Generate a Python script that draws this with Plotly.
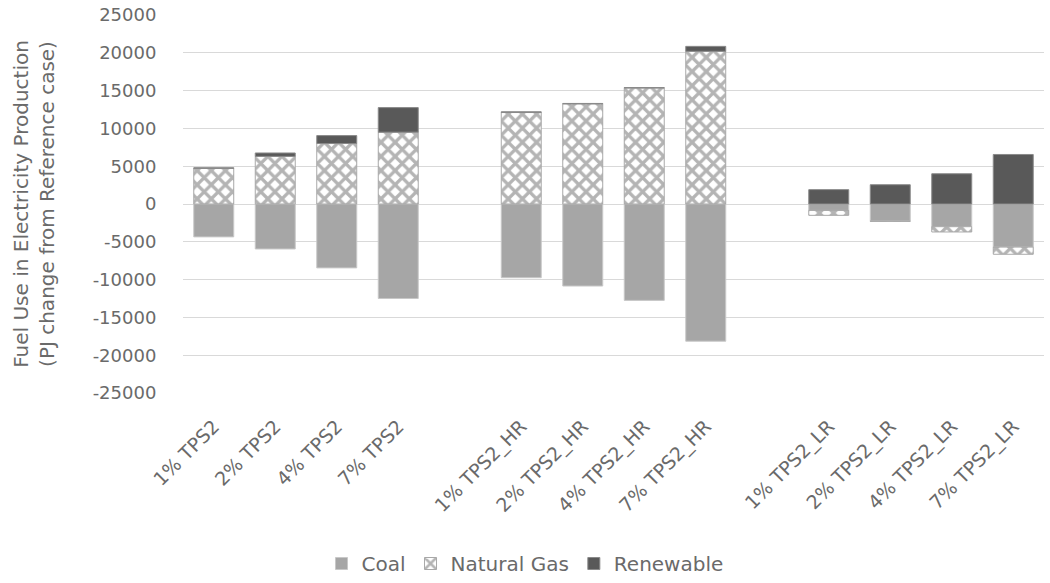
import plotly.graph_objects as go

categories = ["1% TPS2", "2% TPS2", "4% TPS2", "7% TPS2", " ",
              "1% TPS2_HR", "2% TPS2_HR", "4% TPS2_HR", "7% TPS2_HR", "  ",
              "1% TPS2_LR", "2% TPS2_LR", "4% TPS2_LR", "7% TPS2_LR"]
coal = [-4350, -5950, -8450, -12500, None,
        -9750, -10850, -12750, -18150, None,
        -850, -2250, -3000, -5700]
natural_gas = [4700, 6300, 8000, 9500, None,
               12100, 13250, 15350, 20200, None,
               -650, -50, -700, -950]
renewable = [100, 450, 1050, 3250, None,
             100, 50, 50, 650, None,
             1900, 2550, 4000, 6550]
y_ticks = [-25000, -20000, -15000, -10000, -5000, 0, 5000, 10000, 15000, 20000, 25000]
y_tick_text = ["-25000", "-20000", "-15000", "-10000", "-5000", "0",
               "5000", "10000", "15000", "20000", "25000"]

FONT = "DejaVu Sans"
TXT = "#6a6a6a"

fig = go.Figure()
fig.add_trace(go.Bar(name="Coal", x=categories, y=coal,
                     marker=dict(color="#a6a6a6", line=dict(color="#c8c8c8", width=1))))
fig.add_trace(go.Bar(name="Natural Gas", x=categories, y=natural_gas,
                     marker=dict(color="white", line=dict(color="#a8a8a8", width=1),
                                 pattern=dict(shape="x", fgcolor="#6a6a6a", bgcolor="white",
                                              size=10, solidity=0.55))))
fig.add_trace(go.Bar(name="Renewable", x=categories, y=renewable,
                     marker=dict(color="#595959", line=dict(color="#8a8a8a", width=1))))

fig.update_layout(
    width=1050, height=583,
    barmode="relative", bargap=0.35,
    plot_bgcolor="white", paper_bgcolor="white",
    margin=dict(l=183, r=6, t=15, b=190, autoexpand=False),
    font=dict(family=FONT, size=17, color=TXT),
    showlegend=True,
    legend=dict(orientation="h", xref="container", yref="container",
                x=0.5, xanchor="center", y=-0.022, yanchor="bottom",
                font=dict(size=20, color=TXT), traceorder="normal"),
)
fig.update_yaxes(range=[-25000, 25000], tickvals=y_ticks, ticktext=y_tick_text,
                 automargin=False, ticklabeloverflow="allow",
                 showgrid=True, gridcolor="#d9d9d9", gridwidth=1,
                 zeroline=True, zerolinecolor="#d9d9d9", zerolinewidth=1,
                 showline=False, ticks="outside", ticklen=22, tickcolor="rgba(0,0,0,0)",
                 tickfont=dict(size=18, color=TXT),
                 title=dict(text="Fuel Use in Electricity Production<br>(PJ change from Reference case)",
                            font=dict(size=20, color=TXT), standoff=32))
fig.update_xaxes(type="category", categoryorder="array", categoryarray=categories,
                 automargin=False,
                 tickangle=-45, showline=False, showgrid=False,
                 ticks="outside", ticklen=14, tickcolor="rgba(0,0,0,0)",
                 tickfont=dict(size=19, color=TXT))

fig.write_html("out.html", config={"displayModeBar": False},
               post_script="document.body.style.margin='0';document.body.style.overflow='hidden';")
